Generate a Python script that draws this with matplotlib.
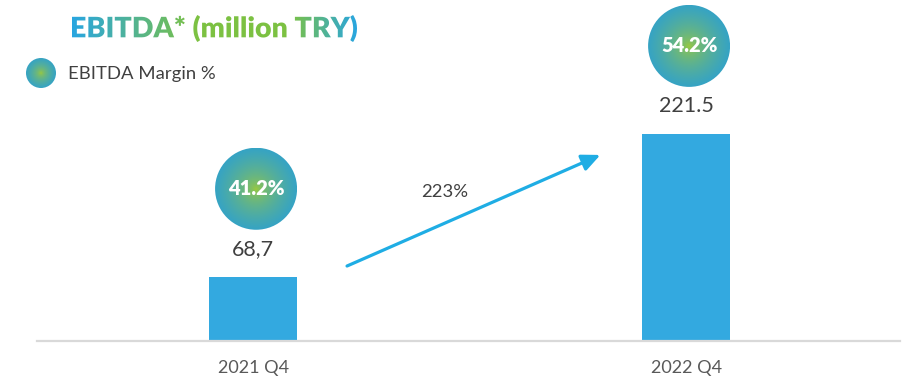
import numpy as np
import matplotlib
matplotlib.use("Agg")
import matplotlib.pyplot as plt
from matplotlib.patches import Circle, PathPatch
from matplotlib.textpath import TextPath
from matplotlib.font_manager import FontProperties
from matplotlib.transforms import Affine2D

# ---- data ----
periods = ["2021 Q4", "2022 Q4"]
ebitda = [68.7, 221.5]
ebitda_labels = ["68,7", "221.5"]
margin_labels = ["41.2%", "54.2%"]
growth_label = "223%"
title_text = "EBITDA* (million TRY)"
legend_text = "EBITDA Margin %"

FONT = "Lato"
W, H = 919, 380
BAR_COLOR = "#33a9e0"
TEXT_COLOR = "#404040"
BLUE = np.array([0.16, 0.65, 0.88])
GREEN = np.array([0.49, 0.76, 0.26])
EDGE = np.array([0.21, 0.64, 0.77])
CENTER = np.array([0.64, 0.80, 0.20])

fig = plt.figure(figsize=(W / 100, H / 100), dpi=100)
fig.patch.set_facecolor("white")

# main bar axes
ax = fig.add_axes([37 / W, 39 / H, 863 / W, 1 - 39 / H])
x = np.arange(len(periods))
ax.bar(x, ebitda, width=0.204, color=BAR_COLOR, zorder=2)
ax.set_xlim(-0.499, 1.494)
ax.set_ylim(0, 364.7)
for s in ["top", "right", "left"]:
    ax.spines[s].set_visible(False)
ax.spines["bottom"].set_color("#d9d9d9")
ax.spines["bottom"].set_linewidth(1.6)
ax.set_yticks([])
ax.set_xticks(x)
ax.set_xticklabels(periods, fontsize=13, color="#595959", family=FONT)
ax.tick_params(axis="x", length=0, pad=14)
ax.patch.set_alpha(0)

# overlay axes in pixel coordinates (y downward)
ov = fig.add_axes([0, 0, 1, 1], zorder=5)
ov.set_xlim(0, W)
ov.set_ylim(H, 0)
ov.axis("off")
ov.patch.set_alpha(0)


def to_pixels(px, py):
    dx, dy = ax.transData.transform((px, py))
    return dx * 100 / fig.dpi, H - dy * 100 / fig.dpi


# radial gradient disc
n = 201
yy, xx = np.mgrid[-1:1:n * 1j, -1:1:n * 1j]
rr = np.clip(np.sqrt(xx ** 2 + yy ** 2), 0, 1)
t = rr ** 0.55
disc = CENTER[None, None, :] * (1 - t[..., None]) + EDGE[None, None, :] * t[..., None]


def gradient_circle(cx, cy, r):
    im = ov.imshow(disc, extent=(cx - r, cx + r, cy + r, cy - r),
                   interpolation="bilinear", zorder=6)
    clip = Circle((cx, cy), r, transform=ov.transData)
    im.set_clip_path(clip)


for xi, v, vl, ml in zip(x, ebitda, ebitda_labels, margin_labels):
    px, py = to_pixels(xi, v)
    ov.text(px, py - 28, vl, ha="center", va="center", fontsize=15.5,
            color=TEXT_COLOR, family=FONT, zorder=7)
    cx, cy = px + 3, py - 88
    gradient_circle(cx, cy, 41)
    ov.text(cx, cy, ml, ha="center", va="center", fontsize=14.5,
            fontweight="heavy", color="white", family=FONT, zorder=7)

# growth arrow between the two periods
ax.annotate("", xy=(0.802, 199), xytext=(0.217, 80.2),
            arrowprops=dict(arrowstyle="-|>,head_length=1.1,head_width=0.5",
                            color="#1fade4", lw=2.3, shrinkA=0, shrinkB=0),
            zorder=4)
ov.text(445, 192, growth_label, ha="center", va="center", fontsize=13.3,
        color=TEXT_COLOR, family=FONT, zorder=7)

# legend marker
gradient_circle(41, 73, 15)
ov.text(68, 74, legend_text, ha="left", va="center", fontsize=13.3,
        color=TEXT_COLOR, family=FONT, zorder=7)

# gradient title
fp = FontProperties(family=FONT, weight="heavy")
tp = TextPath((0, 0), title_text, size=30, prop=fp)
ext = tp.get_extents()
x0t, x1t, y0t, y1t = 72, 357, 15, 42
sx = (x1t - x0t) / ext.width
sy = (y1t - y0t) / ext.height
tr = (Affine2D().translate(-ext.x0, -ext.y1).scale(sx, -sy)
      .translate(x0t, y0t))
tpath = tr.transform_path(tp)
patch = PathPatch(tpath, facecolor="none", edgecolor="none",
                  transform=ov.transData)
ov.add_patch(patch)
xs = np.linspace(x0t, x1t, 400)
stops_x = [x0t, 195, 290, x1t]
cols = np.stack([np.interp(xs, stops_x, [BLUE[k], GREEN[k], GREEN[k], BLUE[k]])
                 for k in range(3)], axis=-1)
grad = np.repeat(cols[None, :, :], 4, axis=0)
tim = ov.imshow(grad, extent=(x0t, x1t, y1t + 1, y0t - 1),
                interpolation="bilinear", zorder=7, aspect="auto")
tim.set_clip_path(patch)

ov.set_xlim(0, W)
ov.set_ylim(H, 0)
fig.savefig("out.png", dpi=100, facecolor="white")
